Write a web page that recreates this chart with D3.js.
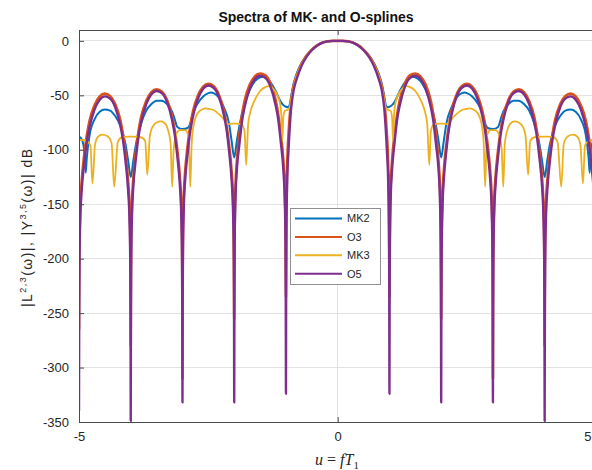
<!DOCTYPE html>
<html lang="en">
<head>
<meta charset="UTF-8">
<title>Spectra of MK- and O-splines</title>
<style>
  body { margin: 0; background: #fff; overflow: hidden; }
  svg  { display: block; font-family: "Liberation Sans", Arial, sans-serif; }
  .tick text { font-size: 13px; fill: #262626; }
  .grid line { stroke: #e2e2e2; shape-rendering: crispEdges; }
  .legend text { font-size: 11px; fill: #262626; }
</style>
</head>
<body>
<svg id="chart" width="592" height="470"></svg>

<script src="https://d3js.org/d3.v7.min.js"></script>
<script>
/* ---------------- Data (dB) ----------------
   The spectra are even in u, so only u >= 0 is listed; the u < 0 half is
   the mirror image of it. */
const mk2 = [
  [0,0],[0.1,0],[0.2,-0.5],[0.3,-1.7],[0.4,-4.2],[0.5,-8],[0.6,-13.3],[0.7,-20.5],[0.8,-31],[0.85,-39],
  [0.9,-51],[0.93,-59],[0.96,-61],[1,-60.5],[1.05,-59],[1.1,-56],[1.2,-46],[1.3,-38],[1.4,-33.5],[1.45,-33],
  [1.5,-33.5],[1.6,-37],[1.7,-45],[1.8,-58],[1.9,-78],[1.95,-92],[2,-107],[2.05,-92],[2.1,-76],[2.2,-61],
  [2.3,-52],[2.4,-48],[2.45,-47.5],[2.5,-48],[2.6,-51],[2.7,-57],[2.8,-67],[2.85,-76],[2.9,-80],[3,-81],
  [3.1,-79],[3.15,-72],[3.2,-65],[3.3,-58],[3.4,-55],[3.5,-55],[3.6,-58],[3.7,-64],[3.8,-76],[3.9,-95],
  [3.95,-110],[4,-125],[4.05,-110],[4.1,-95],[4.2,-78],[4.3,-69],[4.4,-64],[4.5,-63],[4.6,-65],[4.7,-72],
  [4.8,-88],[4.85,-108],[4.87,-121],[4.9,-100],[4.95,-90],[5,-88]
];
const o3 = [
  [0,0],[0.1,0],[0.2,-0.4],[0.3,-1.6],[0.4,-4.1],[0.5,-8],[0.6,-13.5],[0.7,-21],[0.8,-33],[0.85,-41],
  [0.9,-55],[0.95,-85],[0.975,-112],[0.99,-150],[0.996,-190],[1,-235],
  [1.004,-200],[1.01,-165],[1.025,-132],[1.05,-110],[1.1,-85],[1.15,-67],[1.2,-54],[1.3,-39],[1.4,-31.5],[1.5,-30],
  [1.6,-32.5],[1.7,-40],[1.8,-55],[1.85,-68],[1.9,-86],[1.95,-111],[1.975,-133],[1.99,-166],[1.996,-202],[2,-255],
  [2.004,-210],[2.01,-175],[2.025,-142],[2.05,-120],[2.1,-95],[2.15,-77],[2.2,-64],[2.3,-49],[2.4,-41.5],[2.5,-39.5],
  [2.6,-42],[2.7,-50],[2.8,-65],[2.85,-78],[2.9,-96],[2.95,-121],[2.975,-143],[2.99,-176],[2.996,-212],[3,-310],
  [3.004,-215],[3.01,-180],[3.025,-147],[3.05,-125],[3.1,-100],[3.15,-82],[3.2,-69],[3.3,-54],[3.4,-46.5],[3.5,-44.4],
  [3.6,-47],[3.7,-55],[3.8,-70],[3.85,-83],[3.9,-101],[3.95,-126],[3.975,-148],[3.99,-181],[3.996,-216],[4,-280],
  [4.004,-218],[4.01,-183],[4.025,-150],[4.05,-129],[4.1,-104],[4.15,-86],[4.2,-73],[4.3,-58],[4.4,-50.5],[4.5,-48.4],
  [4.6,-51],[4.7,-59],[4.8,-74],[4.85,-87],[4.9,-105],[4.95,-130],[4.975,-152],[4.99,-185],[4.996,-220],[5,-265]
];
const mk3 = [
  [0,0],[0.1,0],[0.2,-0.6],[0.3,-1.9],[0.4,-4.6],[0.5,-8.4],[0.6,-14],[0.7,-21.5],[0.8,-33],[0.85,-42],
  [0.9,-54],[0.93,-61],[0.97,-63.5],[1.02,-64],[1.05,-70],[1.07,-92],[1.09,-68],[1.12,-56],[1.2,-47],
  [1.27,-43],[1.33,-41.5],[1.4,-42.5],[1.5,-46],[1.6,-54],[1.68,-64],[1.73,-76],[1.77,-114],[1.8,-83],
  [1.85,-77],[1.95,-76],[2.05,-76],[2.12,-76.5],[2.2,-72],[2.3,-67],[2.4,-63.5],[2.5,-62.5],[2.55,-62],
  [2.6,-62.5],[2.7,-66],[2.77,-74],[2.82,-92],[2.85,-134],[2.88,-88],[2.95,-82],[3.05,-82],[3.12,-86],
  [3.17,-100],[3.2,-134],[3.23,-94],[3.3,-79],[3.36,-75],[3.42,-74],[3.5,-75],[3.58,-79],[3.63,-87],
  [3.68,-123],[3.72,-92],[3.8,-88.5],[3.95,-88],[4.05,-88],[4.17,-88.5],[4.25,-93],[4.32,-134],[4.37,-94],
  [4.45,-87.5],[4.55,-86],[4.63,-88],[4.69,-95],[4.74,-131],[4.78,-96],[4.85,-92],[4.92,-91],[5,-91]
];
const o5 = [
  [0,0],[0.1,0],[0.2,-0.5],[0.3,-1.8],[0.4,-4.5],[0.5,-8.6],[0.6,-14.5],[0.7,-23],[0.8,-36],[0.85,-45],
  [0.9,-62],[0.95,-100],[0.975,-128],[0.99,-170],[0.996,-222],[1,-324],
  [1.004,-232],[1.01,-182],[1.025,-144],[1.05,-119],[1.1,-93],[1.15,-72],[1.2,-59],[1.3,-42],[1.4,-34],[1.5,-32],
  [1.6,-35],[1.7,-44],[1.8,-61],[1.85,-74],[1.9,-95],[1.95,-119],[1.975,-144],[1.99,-182],[1.996,-232],[2,-332],
  [2.004,-241],[2.01,-191],[2.025,-153],[2.05,-128],[2.1,-101],[2.15,-81],[2.2,-68],[2.3,-51],[2.4,-43],[2.5,-41],
  [2.6,-44],[2.7,-53],[2.8,-70],[2.85,-83],[2.9,-103],[2.95,-129],[2.975,-154],[2.99,-192],[2.996,-242],[3,-332],
  [3.004,-246],[3.01,-196],[3.025,-158],[3.05,-133],[3.1,-106],[3.15,-86],[3.2,-73],[3.3,-56],[3.4,-48],[3.5,-46],
  [3.6,-49],[3.7,-58],[3.8,-75],[3.85,-88],[3.9,-108],[3.95,-134],[3.975,-159],[3.99,-197],[3.996,-247],[4,-349],
  [4.004,-251],[4.01,-201],[4.025,-163],[4.05,-138],[4.1,-111],[4.15,-91],[4.2,-78],[4.3,-61],[4.4,-53],[4.5,-51],
  [4.6,-54],[4.7,-63],[4.8,-80],[4.85,-93],[4.9,-113],[4.95,-139],[4.975,-164],[4.99,-202],[4.996,-252],[5,-340]
];

const seriesNames  = ['MK2', 'O3', 'MK3', 'O5'];
const seriesColors = ['#0072BD', '#D95319', '#EDB120', '#7E2F8E'];
const seriesWidths = [2, 2.6, 1.8, 2.4];
const xTicks = [-5, 0, 5];
const yTicks = [0, -50, -100, -150, -200, -250, -300, -350];

/* ---------------- Layout ---------------- */
const W = 592, H = 470;
const plot = { left: 79, right: 596.4, top: 30, bottom: 422 };

const svg = d3.select('#chart');
const x = d3.scaleLinear().domain([-5, 5]).range([plot.left, plot.right]);
const y = d3.scaleLinear().domain([-350, 10]).range([plot.bottom, plot.top]);

// mirror the u >= 0 half to get the whole curve
const mirror = half => half.filter(d => d[0] > 0).map(d => [-d[0], d[1]]).reverse().concat(half);
const series = [mk2, o3, mk3, o5].map((half, i) => ({
  name: seriesNames[i], color: seriesColors[i], width: seriesWidths[i], values: mirror(half)
}));

svg.append('defs').append('clipPath').attr('id', 'clip')
  .append('rect')
  .attr('x', plot.left).attr('y', plot.top)
  .attr('width', plot.right - plot.left).attr('height', plot.bottom - plot.top);

/* --- grid --- */
const grid = svg.append('g').attr('class', 'grid');
grid.selectAll('.gy').data(yTicks).enter().append('line')
  .attr('x1', plot.left).attr('x2', plot.right)
  .attr('y1', d => y(d)).attr('y2', d => y(d));
grid.selectAll('.gx').data(xTicks).enter().append('line')
  .attr('y1', plot.top).attr('y2', plot.bottom)
  .attr('x1', d => x(d)).attr('x2', d => x(d));

/* --- lines --- */
const line = d3.line()
  .x(d => x(d[0])).y(d => y(d[1]))
  .curve(d3.curveMonotoneX);

svg.append('g').attr('clip-path', 'url(#clip)')
  .selectAll('path')
  .data(series)
  .enter().append('path')
    .attr('d', d => line(d.values))
    .attr('fill', 'none')
    .attr('stroke', d => d.color)
    .attr('stroke-width', d => d.width)
    .attr('stroke-linejoin', 'round');

/* --- axes --- */
const fmt = d => String(d);
const axisColor = '#4a4a4a';

svg.append('g')
  .attr('transform', `translate(${plot.left},0)`)
  .call(d3.axisLeft(y).tickValues(yTicks).tickFormat(fmt).tickSize(-5).tickSizeOuter(0).tickPadding(10))
  .call(g => g.select('.domain').attr('stroke', axisColor))
  .call(g => g.selectAll('.tick line').attr('stroke', axisColor));

svg.append('g')
  .attr('transform', `translate(0,${plot.bottom})`)
  .call(d3.axisBottom(x).tickValues(xTicks).tickFormat(fmt).tickSize(-5).tickSizeOuter(0).tickPadding(10))
  .call(g => g.select('.domain').attr('stroke', axisColor))
  .call(g => g.selectAll('.tick line').attr('stroke', axisColor))
  // the "5" sits on the window edge; keep it inside
  .call(g => g.selectAll('.tick text').filter(d => d === 5)
      .attr('text-anchor', 'end').attr('x', W - 1 - x(5)));

// box: top edge with inward ticks
svg.append('g')
  .attr('transform', `translate(0,${plot.top})`)
  .call(d3.axisTop(x).tickValues(xTicks).tickFormat('').tickSize(-5).tickSizeOuter(0))
  .call(g => g.select('.domain').attr('stroke', axisColor))
  .call(g => g.selectAll('.tick line').attr('stroke', axisColor));

/* --- titles --- */
svg.append('text')
  .attr('x', 316).attr('y', 21.5)
  .attr('text-anchor', 'middle')
  .style('font-weight', 'bold').style('font-size', '14px').attr('fill', '#111')
  .text('Spectra of MK- and O-splines');

const xl = svg.append('text')
  .attr('x', 337).attr('y', 465)
  .attr('text-anchor', 'middle')
  .style('font-family', '"Liberation Serif", "DejaVu Serif", serif')
  .style('font-size', '16px').attr('fill', '#262626');
xl.append('tspan').style('font-style', 'italic').text('u');
xl.append('tspan').text(' = ');
xl.append('tspan').style('font-style', 'italic').text('fT');
xl.append('tspan').attr('dy', 4).style('font-size', '11px').text('1');

const yl = svg.append('text')
  .attr('transform', 'translate(32,228) rotate(-90)')
  .attr('text-anchor', 'middle')
  .attr('textLength', 158).attr('lengthAdjust', 'spacing')
  .style('font-size', '14px').attr('fill', '#262626');
yl.append('tspan').text('|L');
yl.append('tspan').attr('dy', -6).style('font-size', '9px').text('2,3');
yl.append('tspan').attr('dy', 6).text('(ω)|, |Υ');
yl.append('tspan').attr('dy', -6).style('font-size', '9px').text('3,5');
yl.append('tspan').attr('dy', 6).text('(ω)| dB');

/* --- legend --- */
const lg = svg.append('g').attr('class', 'legend');
lg.append('rect')
  .attr('x', 290.5).attr('y', 208.5).attr('width', 90).attr('height', 76)
  .attr('fill', '#fff').attr('stroke', '#8f8f8f').attr('stroke-width', 1);
const rows = lg.selectAll('.row').data(series).enter().append('g')
  .attr('transform', (d, i) => `translate(0,${218.5 + i * 18.4})`);
rows.append('line')
  .attr('x1', 295).attr('x2', 342)
  .attr('stroke', d => d.color).attr('stroke-width', 2);
rows.append('text')
  .attr('x', 347).attr('dy', '0.35em')
  .text(d => d.name);
</script>
</body>
</html>
